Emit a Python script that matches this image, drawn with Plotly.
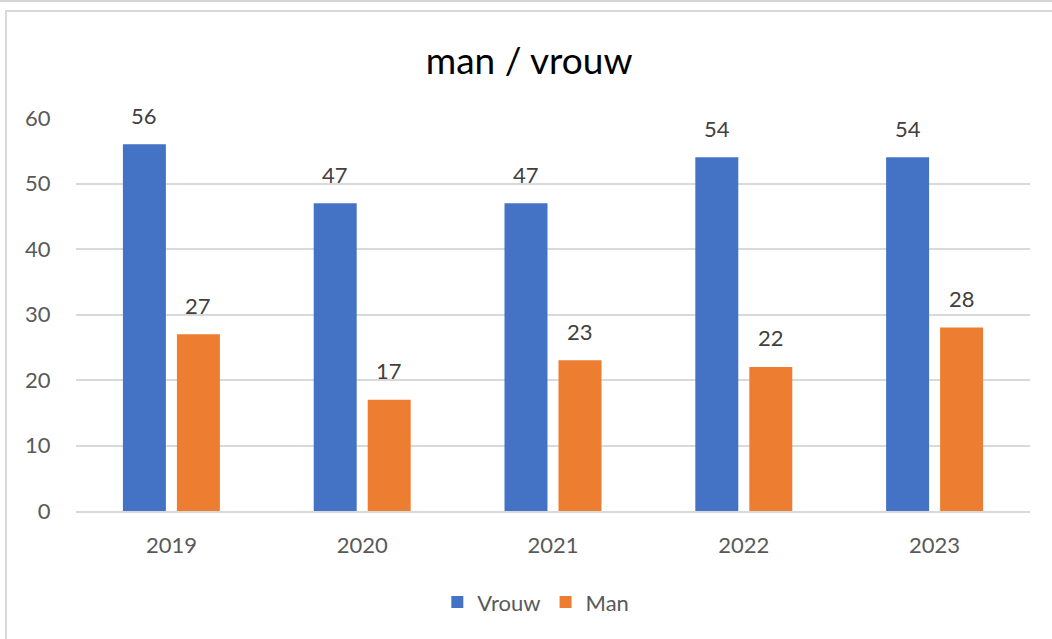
import plotly.graph_objects as go

years = ["2019", "2020", "2021", "2022", "2023"]
vrouw = [56, 47, 47, 54, 54]
man = [27, 17, 23, 22, 28]
y_ticks = [0, 10, 20, 30, 40, 50, 60]

BLUE = "#4472C4"
ORANGE = "#ED7D31"
LABEL_FONT = "Lato, 'Open Sans', sans-serif"

fig = go.Figure()
fig.add_trace(go.Bar(name="Vrouw", x=years, y=vrouw, marker=dict(color=BLUE, line=dict(width=0))))
fig.add_trace(go.Bar(name="Man", x=years, y=man, marker=dict(color=ORANGE, line=dict(width=0))))

# value labels above each bar, offset to the bar's slot within the group
bargap = 0.434
bargroupgap = 0.204
slot = (1 - bargap) / 2
for series, offset in ((vrouw, -slot / 2), (man, slot / 2)):
    for i, v in enumerate(series):
        fig.add_annotation(
            x=i + offset, y=v, xref="x", yref="y", text=str(v),
            showarrow=False, yanchor="middle", yshift=29,
            font=dict(family=LABEL_FONT, size=22, color="#404040"),
        )

# chart frame and page rule
fig.add_shape(type="rect", xref="paper", yref="paper",
              x0=-0.0734, x1=1.05, y0=-0.4, y1=1.272,
              line=dict(color="#D9D9D9", width=2), layer="below")
fig.add_shape(type="line", xref="paper", yref="paper",
              x0=-0.1, x1=1.05, y0=1.2977, y1=1.2977,
              line=dict(color="#D4D4D4", width=2), layer="below")

fig.update_layout(
    width=1052, height=639,
    margin=dict(l=76, r=22, t=118, b=128),
    paper_bgcolor="white", plot_bgcolor="white",
    barmode="group", bargap=bargap, bargroupgap=bargroupgap,
    title=dict(text="man / vrouw", x=0.503, xanchor="center", y=0.905, yanchor="middle",
               font=dict(family="Lato, 'Noto Sans', sans-serif", size=37, color="#000000")),
    showlegend=True,
    legend=dict(orientation="h", x=0.482, xanchor="center", y=-0.232, yanchor="middle",
                font=dict(family=LABEL_FONT, size=22, color="#595959"),
                itemwidth=30, traceorder="normal"),
    xaxis=dict(showgrid=False, showline=True, linecolor="#D9D9D9", linewidth=2,
               ticks="outside", ticklen=14, tickcolor="rgba(0,0,0,0)",
               tickfont=dict(family=LABEL_FONT, size=22, color="#595959")),
    yaxis=dict(range=[0, 60], tickvals=y_ticks, showgrid=True, gridcolor="#D9D9D9",
               gridwidth=2, zeroline=False, showline=False,
               ticks="outside", ticklen=20, tickcolor="rgba(0,0,0,0)",
               tickfont=dict(family=LABEL_FONT, size=22, color="#595959")),
)

fig.write_html("out.html")
